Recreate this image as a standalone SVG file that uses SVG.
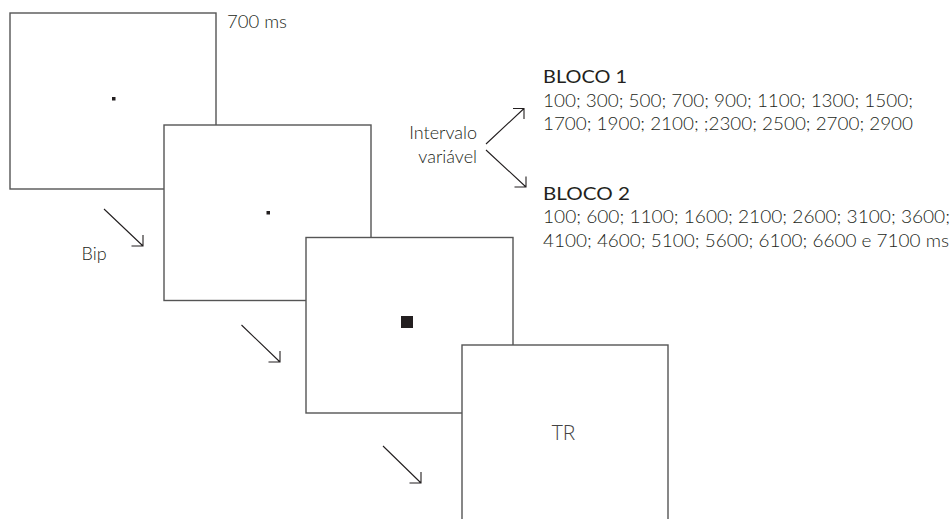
<svg xmlns="http://www.w3.org/2000/svg" width="951" height="519" viewBox="0 0 951 519">
  <style>
    .screen { fill: #ffffff; stroke: #555555; stroke-width: 1.4; }
    .dot { fill: #231f20; }
    .lbl { font-family: Lato, "Open Sans", "Liberation Sans", sans-serif; font-weight: 300; font-size: 18px; fill: #231f20; }
    .head { font-family: Lato, "Open Sans", "Liberation Sans", sans-serif; font-weight: 400; font-size: 18px; fill: #231f20; }
    .tr { font-family: "Open Sans", "Liberation Sans", sans-serif; font-weight: 300; font-size: 21px; fill: #444444; }
    .arrow { fill: none; stroke: #231f20; stroke-width: 1.1; }
  </style>

  <!-- stimulus screens, stacked back to front -->
  <g id="screen1">
    <rect class="screen" x="10" y="13" width="206" height="176"/>
    <rect class="dot" x="112" y="97" width="3.5" height="3.5"/>
  </g>
  <g id="screen2">
    <rect class="screen" x="164" y="125" width="207" height="175.5"/>
    <rect class="dot" x="266.5" y="211" width="3.5" height="3.5"/>
  </g>
  <g id="screen3">
    <rect class="screen" x="306" y="237.5" width="207" height="175.5"/>
    <rect class="dot" x="401" y="316" width="12" height="12"/>
  </g>
  <g id="screen4">
    <rect class="screen" x="462" y="345" width="206" height="180"/>
    <text class="tr" x="563.5" y="440" text-anchor="middle">TR</text>
  </g>

  <!-- connectors: diagonal arrows with open right-angle heads -->
  <g id="connectors">
    <path class="arrow" d="M104 209 L143 246 M131.5 246 H143 V235"/>
    <path class="arrow" d="M241.5 325 L280 362 M268.5 362 H280 V351"/>
    <path class="arrow" d="M383 446 L421 483 M409.5 483 H421 V472"/>
    <path class="arrow" d="M486 144 L524 108.5 M513 108.5 H524 V119"/>
    <path class="arrow" d="M486 150 L526 187 M514.5 187 H526 V176.5"/>
  </g>

  <!-- labels -->
  <g id="labels">
    <text class="lbl" x="227" y="28" textLength="60" lengthAdjust="spacingAndGlyphs">700 ms</text>
    <text class="lbl" x="81.5" y="260">Bip</text>
    <text class="lbl" x="477" y="139" text-anchor="end">Intervalo</text>
    <text class="lbl" x="477" y="163" text-anchor="end">variável</text>
    <text class="head" x="543" y="83" textLength="84" lengthAdjust="spacingAndGlyphs">BLOCO 1</text>
    <text class="lbl" x="543" y="106.5" textLength="370" lengthAdjust="spacingAndGlyphs">100; 300; 500; 700; 900; 1100; 1300; 1500;</text>
    <text class="lbl" x="543" y="130" textLength="370" lengthAdjust="spacingAndGlyphs">1700; 1900; 2100; ;2300; 2500; 2700; 2900</text>
    <text class="head" x="543" y="200" textLength="87" lengthAdjust="spacingAndGlyphs">BLOCO 2</text>
    <text class="lbl" x="543" y="223" textLength="407" lengthAdjust="spacingAndGlyphs">100; 600; 1100; 1600; 2100; 2600; 3100; 3600;</text>
    <text class="lbl" x="543" y="246.5" textLength="406" lengthAdjust="spacingAndGlyphs">4100; 4600; 5100; 5600; 6100; 6600 e 7100 ms</text>
  </g>
</svg>
